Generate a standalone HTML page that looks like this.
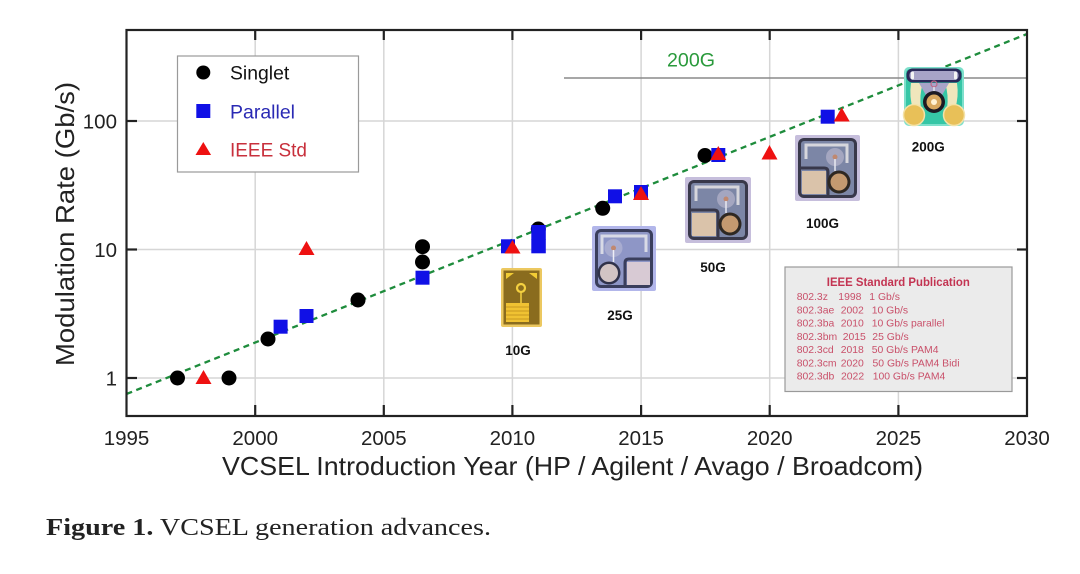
<!DOCTYPE html>
<html>
<head>
<meta charset="utf-8">
<style>
html,body{margin:0;padding:0;background:#fff;}
svg{display:block;}
text{font-family:"Liberation Sans",Arial,sans-serif;}
</style>
</head>
<body>
<svg width="1080" height="574" viewBox="0 0 1080 574" xmlns="http://www.w3.org/2000/svg">
<rect width="1080" height="574" fill="#fff"/>

<!-- gridlines -->
<g stroke="#d6d6d6" stroke-width="1.5">
  <line x1="255.2" y1="30" x2="255.2" y2="416"/>
  <line x1="383.8" y1="30" x2="383.8" y2="416"/>
  <line x1="512.4" y1="30" x2="512.4" y2="416"/>
  <line x1="641.1" y1="30" x2="641.1" y2="416"/>
  <line x1="769.7" y1="30" x2="769.7" y2="416"/>
  <line x1="898.4" y1="30" x2="898.4" y2="416"/>
  <line x1="126.5" y1="121" x2="1027" y2="121"/>
  <line x1="126.5" y1="249.5" x2="1027" y2="249.5"/>
  <line x1="126.5" y1="378" x2="1027" y2="378"/>
</g>

<!-- 200G line and label -->
<line x1="564" y1="78" x2="1027" y2="78" stroke="#8a8a8a" stroke-width="1.6"/>
<text x="691" y="66.5" font-size="19.5" fill="#2a9a3c" text-anchor="middle" textLength="48" lengthAdjust="spacingAndGlyphs">200G</text>

<!-- trend line -->
<line x1="126.5" y1="394" x2="1027" y2="34" stroke="#1e8c3c" stroke-width="2.3" stroke-dasharray="6 4.5"/>

<!-- 10G chip -->
<g transform="translate(501,268)">
  <rect x="0" y="0" width="41" height="59" rx="2" fill="#ecc860"/>
  <rect x="2.5" y="2.5" width="36" height="54" fill="#8a6c1e"/>
  <polygon points="5,5 13,5 5,11" fill="#f2cc34"/>
  <polygon points="36,5 28,5 36,11" fill="#f2cc34"/>
  <circle cx="20" cy="20" r="4" fill="#8a6c1e" stroke="#f4d040" stroke-width="2.2"/>
  <line x1="20" y1="24" x2="20" y2="35" stroke="#f4d040" stroke-width="1.5"/>
  <rect x="5" y="35" width="23" height="19" fill="#f0c232"/>
  <g stroke="#c89820" stroke-width="1">
    <line x1="5" y1="39" x2="28" y2="39"/>
    <line x1="5" y1="43" x2="28" y2="43"/>
    <line x1="5" y1="47" x2="28" y2="47"/>
    <line x1="5" y1="51" x2="28" y2="51"/>
  </g>
</g>

<!-- 25G chip -->
<g transform="translate(592,226)">
  <rect x="0" y="0" width="64" height="65" rx="2" fill="#b2b6ea"/>
  <rect x="3" y="3" width="58" height="59" rx="6" fill="#3a3e5c"/>
  <rect x="6" y="6" width="52" height="53" rx="3" fill="#8e96c6"/>
  <path d="M10 28 V10 H54 V26" stroke="#d8dae6" stroke-width="3" fill="none"/>
  <circle cx="21.5" cy="22" r="9" fill="#a8acd0"/>
  <circle cx="21.5" cy="22" r="2.5" fill="#c08870"/>
  <line x1="21.5" y1="24" x2="21.5" y2="36" stroke="#eeeef6" stroke-width="1.5"/>
  <rect x="35" y="36" width="23" height="23" fill="#d8cad4"/>
  <path d="M59 33 H37 Q33 33 33 37 V61" stroke="#3a3e5c" stroke-width="3" fill="none"/>
  <circle cx="17" cy="47" r="11.5" fill="#30324a"/>
  <circle cx="17" cy="47" r="9" fill="#d2c4c4"/>
</g>

<!-- 50G chip -->
<g transform="translate(685,177)">
  <rect x="0" y="0" width="66" height="66" rx="2" fill="#c6bedc"/>
  <rect x="3" y="3" width="60" height="60" rx="6" fill="#38384a"/>
  <rect x="6" y="6" width="54" height="54" rx="3" fill="#7c86a6"/>
  <path d="M11 24 V10 H53 V28" stroke="#d6d6dc" stroke-width="3" fill="none"/>
  <circle cx="41" cy="22" r="9" fill="#a4a6c0"/>
  <circle cx="41" cy="22" r="2.5" fill="#c08870"/>
  <line x1="41" y1="24" x2="41" y2="36" stroke="#e8e8f0" stroke-width="1.5"/>
  <rect x="7" y="36" width="24" height="23" fill="#dac3aa"/>
  <path d="M5 33 H29 Q33 33 33 37 V61" stroke="#38384a" stroke-width="3" fill="none"/>
  <circle cx="45" cy="47" r="11.5" fill="#2e2822"/>
  <circle cx="45" cy="47" r="8.5" fill="#c49a70"/>
</g>

<!-- 100G chip -->
<g transform="translate(795,135)">
  <rect x="0" y="0" width="65" height="66" rx="2" fill="#c6bedc"/>
  <rect x="3" y="3" width="59" height="60" rx="6" fill="#38384a"/>
  <rect x="6" y="6" width="53" height="54" rx="3" fill="#7c86a6"/>
  <path d="M11 24 V10 H52 V28" stroke="#d6d6dc" stroke-width="3" fill="none"/>
  <circle cx="40" cy="22" r="9" fill="#a4a6c0"/>
  <circle cx="40" cy="22" r="2.5" fill="#c08870"/>
  <line x1="40" y1="24" x2="40" y2="36" stroke="#e8e8f0" stroke-width="1.5"/>
  <rect x="7" y="36" width="24" height="23" fill="#dac3aa"/>
  <path d="M5 33 H29 Q33 33 33 37 V61" stroke="#38384a" stroke-width="3" fill="none"/>
  <circle cx="44" cy="47" r="11.5" fill="#2e2822"/>
  <circle cx="44" cy="47" r="8.5" fill="#c49a70"/>
</g>

<!-- 200G chip -->
<g transform="translate(903,65)">
  <rect x="1" y="2" width="60" height="59" rx="5" fill="#7ee0cc"/>
  <rect x="3" y="4" width="56" height="55" rx="4" fill="#36c6a6"/>
  <path d="M8 18 Q6 32 10 44 L18 44 Q16 30 20 18 Z" fill="#f0e6bc"/>
  <path d="M54 18 Q56 32 52 44 L44 44 Q46 30 42 18 Z" fill="#f0e6bc"/>
  <path d="M16 18 H46 L38 32 H24 Z" fill="#a8a4c8"/>
  <rect x="3.5" y="3.5" width="55" height="14" rx="6" fill="#2a2858"/>
  <rect x="6.5" y="6" width="49" height="9" rx="4" fill="#a8a4c8"/>
  <rect x="8" y="6.5" width="3" height="8" rx="1.5" fill="#f4f4f4"/>
  <rect x="51" y="6.5" width="3" height="8" rx="1.5" fill="#f4f4f4"/>
  <circle cx="31" cy="19" r="3" fill="none" stroke="#c06888" stroke-width="1.2"/>
  <line x1="31" y1="22" x2="31" y2="28" stroke="#f0f0f0" stroke-width="1.3"/>
  <circle cx="11" cy="50" r="10.5" fill="#e8c058" stroke="#f4e2a8" stroke-width="1.5"/>
  <circle cx="51" cy="50" r="10.5" fill="#e8c058" stroke="#f4e2a8" stroke-width="1.5"/>
  <circle cx="31" cy="37" r="11" fill="#1c1a24"/>
  <circle cx="31" cy="37" r="7.5" fill="#d8a860"/>
  <circle cx="31" cy="37" r="3" fill="#fff2d4"/>
</g>

<!-- chip labels -->
<g font-weight="bold" font-size="13.5" fill="#111" text-anchor="middle">
  <text x="518" y="355">10G</text>
  <text x="620" y="320">25G</text>
  <text x="713" y="272">50G</text>
  <text x="822.5" y="228">100G</text>
  <text x="928.3" y="151.5">200G</text>
</g>

<!-- IEEE box -->
<rect x="785" y="267" width="227" height="124.5" fill="#ebebeb" stroke="#9a9a9a" stroke-width="1.2"/>
<text x="898.3" y="286.2" font-size="11.5" font-weight="bold" fill="#c33452" text-anchor="middle" textLength="143" lengthAdjust="spacingAndGlyphs">IEEE Standard Publication</text>
<g font-size="10.4" fill="#c9506a">
  <text x="796.7" y="300">802.3z</text><text x="838.3" y="300">1998</text><text x="869.3" y="300">1 Gb/s</text>
  <text x="796.7" y="313.4">802.3ae</text><text x="840.7" y="313.4">2002</text><text x="871.7" y="313.4">10 Gb/s</text>
  <text x="796.7" y="326.7">802.3ba</text><text x="840.7" y="326.7">2010</text><text x="871.7" y="326.7">10 Gb/s parallel</text>
  <text x="796.7" y="339.8">802.3bm</text><text x="842.7" y="339.8">2015</text><text x="872.3" y="339.8">25 Gb/s</text>
  <text x="796.7" y="353">802.3cd</text><text x="840.7" y="353">2018</text><text x="871.7" y="353">50 Gb/s PAM4</text>
  <text x="796.7" y="366.4">802.3cm</text><text x="840.7" y="366.4">2020</text><text x="872.5" y="366.4">50 Gb/s PAM4 Bidi</text>
  <text x="796.7" y="379.7">802.3db</text><text x="841" y="379.7">2022</text><text x="872.7" y="379.7">100 Gb/s PAM4</text>
</g>

<!-- Singlet markers -->
<g fill="#000">
  <circle cx="177.5" cy="378" r="7.5"/>
  <circle cx="229" cy="378" r="7.5"/>
  <circle cx="268" cy="339" r="7.5"/>
  <circle cx="358" cy="300" r="7.5"/>
  <circle cx="422.5" cy="246.7" r="7.5"/>
  <circle cx="422.5" cy="262" r="7.5"/>
  <circle cx="538.3" cy="229" r="7.5"/>
  <circle cx="602.7" cy="208.3" r="7.5"/>
  <circle cx="705" cy="155.5" r="7.5"/>
</g>

<!-- Parallel markers -->
<g fill="#1010e6">
  <rect x="273.6" y="319.7" width="14" height="14"/>
  <rect x="299.5" y="309" width="14" height="14"/>
  <rect x="415.5" y="270.7" width="14" height="14"/>
  <rect x="501" y="239.3" width="14" height="14"/>
  <rect x="531.3" y="225" width="14.5" height="14.5"/>
  <rect x="531.3" y="239" width="14.5" height="14.3"/>
  <rect x="608" y="189.3" width="14" height="14"/>
  <rect x="634" y="185" width="14" height="15"/>
  <rect x="711.3" y="148" width="14" height="14"/>
  <rect x="820.7" y="109.7" width="14" height="14"/>
</g>

<!-- IEEE markers -->
<g fill="#ee1111">
  <polygon points="203.5,370 195.5,384 211.5,384"/>
  <polygon points="306.5,241 298.5,255 314.5,255"/>
  <polygon points="512.5,240 504.5,253.5 520.5,253.5"/>
  <polygon points="641,186 633,200 649,200"/>
  <polygon points="718.3,146 710.3,160 726.3,160"/>
  <polygon points="769.5,145 761.5,159.5 777.5,159.5"/>
  <polygon points="841.7,107.5 833.7,121.5 849.7,121.5"/>
</g>

<!-- axes frame -->
<rect x="126.5" y="30" width="900.5" height="386" fill="none" stroke="#222" stroke-width="2.2"/>
<g stroke="#222" stroke-width="2.2">
  <line x1="255.2" y1="416" x2="255.2" y2="405"/>
  <line x1="383.8" y1="416" x2="383.8" y2="405"/>
  <line x1="512.4" y1="416" x2="512.4" y2="405"/>
  <line x1="641.1" y1="416" x2="641.1" y2="405"/>
  <line x1="769.7" y1="416" x2="769.7" y2="405"/>
  <line x1="898.4" y1="416" x2="898.4" y2="405"/>
  <line x1="255.2" y1="30" x2="255.2" y2="40"/>
  <line x1="383.8" y1="30" x2="383.8" y2="40"/>
  <line x1="512.4" y1="30" x2="512.4" y2="40"/>
  <line x1="641.1" y1="30" x2="641.1" y2="40"/>
  <line x1="769.7" y1="30" x2="769.7" y2="40"/>
  <line x1="898.4" y1="30" x2="898.4" y2="40"/>
  <line x1="126.5" y1="121" x2="137" y2="121"/>
  <line x1="126.5" y1="249.5" x2="137" y2="249.5"/>
  <line x1="126.5" y1="378" x2="137" y2="378"/>
  <line x1="1027" y1="121" x2="1017" y2="121"/>
  <line x1="1027" y1="249.5" x2="1017" y2="249.5"/>
  <line x1="1027" y1="378" x2="1017" y2="378"/>
</g>

<!-- legend -->
<rect x="177.5" y="56" width="181" height="116" fill="#fff" stroke="#9a9a9a" stroke-width="1.2"/>
<circle cx="203.3" cy="72.5" r="7" fill="#000"/>
<rect x="196.3" y="104" width="14" height="14" fill="#1010e6"/>
<polygon points="203.3,142 195.5,155 211.1,155" fill="#ee1111"/>
<text x="230" y="79.3" font-size="19.3" fill="#111" textLength="59.3" lengthAdjust="spacingAndGlyphs">Singlet</text>
<text x="230" y="118.3" font-size="19.3" fill="#2a2ab4" textLength="65" lengthAdjust="spacingAndGlyphs">Parallel</text>
<text x="230" y="156.7" font-size="19.3" fill="#c8303c" textLength="77" lengthAdjust="spacingAndGlyphs">IEEE Std</text>

<!-- tick labels -->
<g font-size="20.5" fill="#222">
  <g text-anchor="end">
    <text x="117" y="128.5">100</text>
    <text x="117" y="257">10</text>
    <text x="117" y="385.5">1</text>
  </g>
  <g text-anchor="middle">
    <text x="126.5" y="445">1995</text>
    <text x="255.2" y="445">2000</text>
    <text x="383.8" y="445">2005</text>
    <text x="512.4" y="445">2010</text>
    <text x="641.1" y="445">2015</text>
    <text x="769.7" y="445">2020</text>
    <text x="898.4" y="445">2025</text>
    <text x="1027" y="445">2030</text>
  </g>
</g>

<!-- axis titles -->
<text x="572.5" y="475" font-size="26" fill="#222" text-anchor="middle" textLength="701" lengthAdjust="spacingAndGlyphs">VCSEL Introduction Year (HP / Agilent / Avago / Broadcom)</text>
<text x="0" y="0" font-size="26" fill="#222" text-anchor="middle" textLength="284" lengthAdjust="spacingAndGlyphs" transform="translate(74,224) rotate(-90)">Modulation Rate (Gb/s)</text>

<!-- caption -->
<text x="46" y="535" font-size="24" fill="#222" style="font-family:'Liberation Serif','Times New Roman',serif;" textLength="445" lengthAdjust="spacingAndGlyphs"><tspan font-weight="bold">Figure 1.</tspan> VCSEL generation advances.</text>
</svg>
</body>
</html>
